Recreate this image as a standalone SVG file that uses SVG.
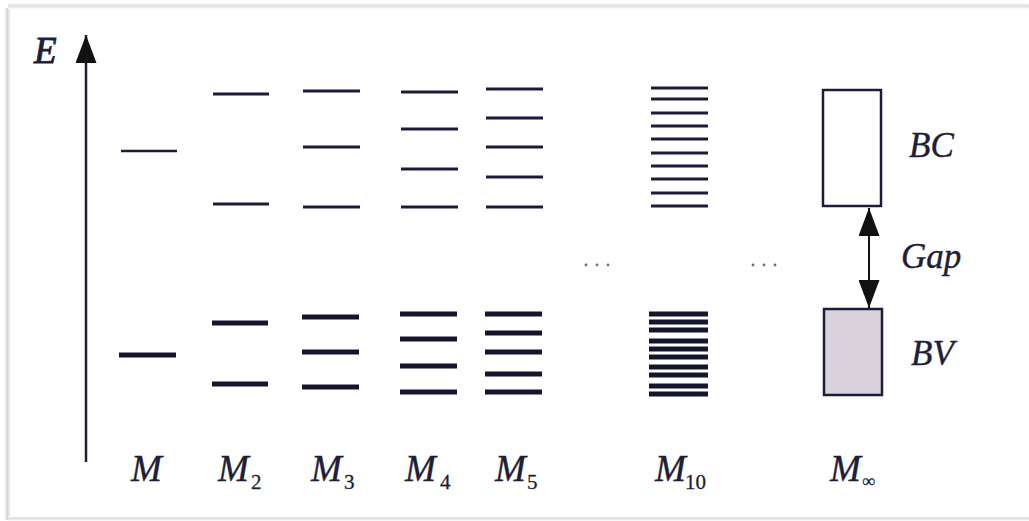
<svg xmlns="http://www.w3.org/2000/svg" width="1029" height="521" viewBox="0 0 1029 521">
<defs>
<style>
.up{stroke:#1c1c3a;stroke-width:3;fill:none}
.lo{stroke:#15152e;stroke-width:5;fill:none}
.lbl{font-family:"Liberation Serif","Times New Roman",serif;font-style:italic;font-size:35px;fill:#1e1e38;stroke:#1e1e38;stroke-width:0.4}
.ml{font-size:37px}
.sub{font-family:"Liberation Serif","Times New Roman",serif;font-style:normal;font-size:21px;fill:#1e1e38;stroke:#1e1e38;stroke-width:0.3}
.dot{fill:#707070}
</style>
<linearGradient id="sh" x1="0" x2="1" y1="0" y2="0">
<stop offset="0" stop-color="#ffffff"/>
<stop offset="0.5" stop-color="#d6d6d6"/>
<stop offset="1" stop-color="#ffffff"/>
</linearGradient>
<linearGradient id="shv" x1="0" x2="0" y1="0" y2="1">
<stop offset="0" stop-color="#ffffff"/>
<stop offset="0.5" stop-color="#dcdcdc"/>
<stop offset="1" stop-color="#ffffff"/>
</linearGradient>
<marker id="ah" viewBox="0 0 28 21" refX="28" refY="10.5" markerWidth="28" markerHeight="21" markerUnits="userSpaceOnUse" orient="auto-start-reverse">
<path d="M0,0 L28,10.5 L0,21 Z" fill="#111"/>
</marker>
</defs>
<rect width="1029" height="521" fill="#ffffff"/>
<g id="frame">
<rect x="4" y="8" width="7" height="512" fill="url(#sh)"/>
<rect x="8" y="3" width="1021" height="6" fill="url(#shv)"/>
<rect x="8" y="516" width="1021" height="5" fill="url(#shv)"/>
</g>
<g id="axis">
<text class="lbl" x="34" y="63" style="font-size:37px;stroke-width:0.9">E</text>
</g>
<g id="connectors">
<line x1="86" y1="462" x2="86" y2="35" stroke="#1c1c3a" stroke-width="2.5" marker-end="url(#ah)"/>
<line x1="869" y1="208" x2="869" y2="308" stroke="#111" stroke-width="2" marker-start="url(#ah)" marker-end="url(#ah)"/>
</g>
<g id="col-M">
<line class="up" x1="121" y1="151" x2="177" y2="151" style="stroke-width:2.5"/>
<line class="lo" x1="119" y1="355" x2="176" y2="355"/>
<text class="lbl ml" x="131" y="481">M</text>
</g>
<g id="col-M2">
<line class="up" x1="213" y1="94" x2="269" y2="94"/>
<line class="up" x1="213" y1="204" x2="269" y2="204"/>
<line class="lo" x1="212" y1="323" x2="268" y2="323"/>
<line class="lo" x1="212" y1="384" x2="268" y2="384"/>
<text class="lbl ml" x="218" y="481">M</text><text class="sub" x="251" y="489">2</text>
</g>
<g id="col-M3">
<line class="up" x1="303" y1="91" x2="360" y2="91"/>
<line class="up" x1="303" y1="147" x2="360" y2="147"/>
<line class="up" x1="303" y1="207" x2="360" y2="207"/>
<line class="lo" x1="302" y1="317" x2="359" y2="317"/>
<line class="lo" x1="302" y1="352" x2="359" y2="352"/>
<line class="lo" x1="302" y1="387" x2="359" y2="387"/>
<text class="lbl ml" x="311" y="481">M</text><text class="sub" x="344" y="489">3</text>
</g>
<g id="col-M4">
<line class="up" x1="401" y1="92" x2="458" y2="92"/>
<line class="up" x1="401" y1="129" x2="458" y2="129"/>
<line class="up" x1="401" y1="169" x2="458" y2="169"/>
<line class="up" x1="401" y1="207" x2="458" y2="207"/>
<line class="lo" x1="400" y1="314" x2="457" y2="314"/>
<line class="lo" x1="400" y1="339" x2="457" y2="339"/>
<line class="lo" x1="400" y1="366" x2="457" y2="366"/>
<line class="lo" x1="400" y1="392" x2="457" y2="392"/>
<text class="lbl ml" x="405" y="481">M</text><text class="sub" x="440" y="489">4</text>
</g>
<g id="col-M5">
<line class="up" x1="486" y1="89" x2="543" y2="89"/>
<line class="up" x1="486" y1="118" x2="543" y2="118"/>
<line class="up" x1="486" y1="147" x2="543" y2="147"/>
<line class="up" x1="486" y1="177" x2="543" y2="177"/>
<line class="up" x1="486" y1="207" x2="543" y2="207"/>
<line class="lo" x1="485" y1="314" x2="542" y2="314"/>
<line class="lo" x1="485" y1="333" x2="542" y2="333"/>
<line class="lo" x1="485" y1="352" x2="542" y2="352"/>
<line class="lo" x1="485" y1="374" x2="542" y2="374"/>
<line class="lo" x1="485" y1="392" x2="542" y2="392"/>
<text class="lbl ml" x="495" y="481">M</text><text class="sub" x="527" y="489">5</text>
</g>
<g id="dots1">
<circle class="dot" cx="586" cy="265" r="1.4"/>
<circle class="dot" cx="597" cy="265" r="1.4"/>
<circle class="dot" cx="608" cy="265" r="1.4"/>
</g>
<g id="col-M10">
<line class="up" x1="651" y1="88" x2="708" y2="88"/>
<line class="up" x1="651" y1="99" x2="708" y2="99"/>
<line class="up" x1="651" y1="113" x2="708" y2="113"/>
<line class="up" x1="651" y1="126" x2="708" y2="126"/>
<line class="up" x1="651" y1="139" x2="708" y2="139"/>
<line class="up" x1="651" y1="153" x2="708" y2="153"/>
<line class="up" x1="651" y1="166" x2="708" y2="166"/>
<line class="up" x1="651" y1="179" x2="708" y2="179"/>
<line class="up" x1="651" y1="193" x2="708" y2="193"/>
<line class="up" x1="651" y1="206" x2="708" y2="206"/>
<line class="lo" x1="649" y1="314" x2="708" y2="314"/>
<line class="lo" x1="649" y1="322" x2="708" y2="322"/>
<line class="lo" x1="649" y1="330" x2="708" y2="330"/>
<line class="lo" x1="649" y1="341" x2="708" y2="341"/>
<line class="lo" x1="649" y1="349" x2="708" y2="349"/>
<line class="lo" x1="649" y1="357" x2="708" y2="357"/>
<line class="lo" x1="649" y1="367" x2="708" y2="367"/>
<line class="lo" x1="649" y1="375" x2="708" y2="375"/>
<line class="lo" x1="649" y1="386" x2="708" y2="386"/>
<line class="lo" x1="649" y1="394" x2="708" y2="394"/>
<text class="lbl ml" x="655" y="481">M</text><text class="sub" x="685" y="489">10</text>
</g>
<g id="dots2">
<circle class="dot" cx="753" cy="265" r="1.4"/>
<circle class="dot" cx="764" cy="265" r="1.4"/>
<circle class="dot" cx="775" cy="265" r="1.4"/>
</g>
<g id="col-Minf">
<rect id="BC" x="823" y="90" width="58" height="116" fill="#ffffff" stroke="#1c1c3a" stroke-width="2.5"/>
<rect id="BV" x="824" y="309" width="58" height="86" fill="#d9d2dc" stroke="#1c1c3a" stroke-width="2.5"/>
<text class="lbl ml" x="830" y="481">M</text><text class="sub" x="862" y="487" style="font-size:18px">∞</text>
<text class="lbl" x="909" y="157">BC</text>
<text class="lbl" x="901" y="268">Gap</text>
<text class="lbl" x="911" y="365">BV</text>
</g>
</svg>
